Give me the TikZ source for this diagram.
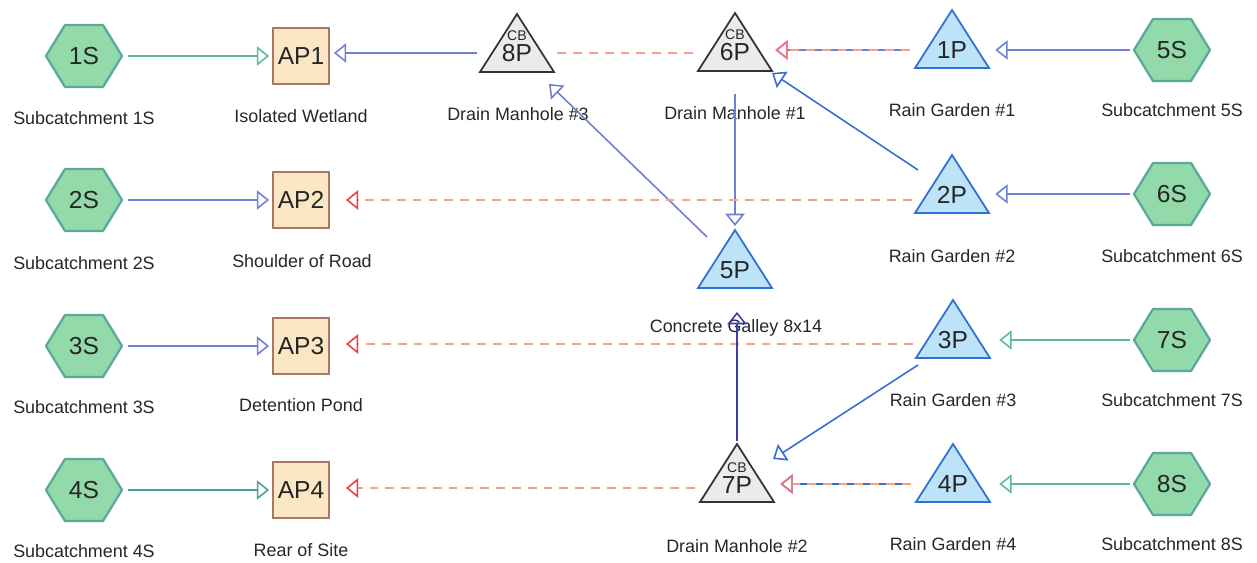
\documentclass[tikz,border=0pt]{standalone}
\usepackage{fontspec}
\setmainfont{Liberation Sans}
\usetikzlibrary{arrows.meta}
\definecolor{hexfill}{HTML}{92DAA9}
\definecolor{hexdraw}{HTML}{5BA89C}
\definecolor{apfill}{HTML}{FCE7C4}
\definecolor{apdraw}{HTML}{A8766A}
\definecolor{pondfill}{HTML}{BCE3F7}
\definecolor{ponddraw}{HTML}{2F6FD6}
\definecolor{cbfill}{HTML}{EBEBEB}
\definecolor{cbdraw}{HTML}{333333}
\definecolor{cgreen}{HTML}{5DB89E}
\definecolor{cteal}{HTML}{4BA0A0}
\definecolor{cblue}{HTML}{6E7FD4}
\definecolor{cpond}{HTML}{3A6CD6}
\definecolor{cnavy}{HTML}{3B3FA8}
\definecolor{cdash}{HTML}{F4A08C}
\definecolor{cred}{HTML}{EE3B3B}
\begin{document}
\begin{tikzpicture}[x=0.02cm, y=-0.02cm,
  hexpic/.pic={\filldraw[fill=hexfill, draw=hexdraw, line width=1.3pt, line join=round]
     (-38,0) -- (-19,-31) -- (19,-31) -- (38,0) -- (19,31) -- (-19,31) -- cycle;},
  pondpic/.pic={\filldraw[fill=pondfill, draw=ponddraw, line width=1pt, line join=miter]
     (0,0) -- (37,58) -- (-37,58) -- cycle;},
  cbpic/.pic={\filldraw[fill=cbfill, draw=cbdraw, line width=1pt, line join=miter]
     (0,0) -- (37,58) -- (-37,58) -- cycle;},
  idtxt/.style={font=\fontsize{14}{14}\selectfont, text=black!85, inner sep=0pt},
  cbtxt/.style={font=\fontsize{8}{8}\selectfont, text=black!85, inner sep=0pt},
  hexnode/.style={idtxt, minimum width=1.52cm, minimum height=1.24cm},
  trinode/.style={idtxt, minimum width=1.48cm, minimum height=0.6cm},
  apnode/.style={idtxt, draw=apdraw, fill=apfill, line width=1pt, minimum size=1.12cm},
  lbl/.style={font=\fontsize{10.2}{10.2}\selectfont, text=black!85, inner sep=0pt},
  conn/.style={line width=0.9pt, -{Triangle[open, length=7pt, width=11pt]}},
  gline/.style={conn, draw=cgreen},
  tline/.style={conn, draw=cteal},
  bline/.style={conn, draw=cblue},
  pline/.style={conn, draw=cpond},
  nline/.style={conn, draw=cnavy},
  dline/.style={line width=0.9pt, draw=cdash, dash pattern=on 5pt off 4pt},
  rline/.style={dline, -{Triangle[open, length=7pt, width=11pt, color=cred]}},
  sh/.style={shorten <=#1},
  se/.style={shorten >=#1}
]
\useasboundingbox (0,0) rectangle (1257,563);

% shapes
\pic at (84,56) {hexpic};
\pic at (84,200) {hexpic};
\pic at (84,346) {hexpic};
\pic at (84,490) {hexpic};
\pic at (1172,50) {hexpic};
\pic at (1172,194) {hexpic};
\pic at (1172,340) {hexpic};
\pic at (1172,484) {hexpic};
\pic at (517,14) {cbpic};
\pic at (735,13) {cbpic};
\pic at (737,444) {cbpic};
\pic at (952,10) {pondpic};
\pic at (952,155) {pondpic};
\pic at (735,230) {pondpic};
\pic at (953,300) {pondpic};
\pic at (953,444) {pondpic};

% nodes
\node[hexnode] (1S) at (84,56) {1S};
\node[hexnode] (2S) at (84,200) {2S};
\node[hexnode] (3S) at (84,346) {3S};
\node[hexnode] (4S) at (84,490) {4S};
\node[hexnode] (5S) at (1172,50) {5S};
\node[hexnode] (6S) at (1172,194) {6S};
\node[hexnode] (7S) at (1172,340) {7S};
\node[hexnode] (8S) at (1172,484) {8S};
\node[apnode] (AP1) at (301,56) {AP1};
\node[apnode] (AP2) at (301,200) {AP2};
\node[apnode] (AP3) at (301,346) {AP3};
\node[apnode] (AP4) at (301,490) {AP4};
\node[trinode] (8P) at (517,53) {8P};
\node[cbtxt] (8Pcb) at (517,36) {CB};
\node[trinode] (6P) at (735,52) {6P};
\node[cbtxt] (6Pcb) at (735,35) {CB};
\node[trinode] (7P) at (737,485) {7P};
\node[cbtxt] (7Pcb) at (737,468) {CB};
\node[trinode] (1P) at (952,50) {1P};
\node[trinode] (2P) at (952,195) {2P};
\node[trinode] (5P) at (735,270) {5P};
\node[trinode] (3P) at (953,340) {3P};
\node[trinode] (4P) at (953,484) {4P};

% labels
\node[lbl] (l1S) at (84,118) {Subcatchment 1S};
\node[lbl] (lAP1) at (301,116) {Isolated Wetland};
\node[lbl] (l8P) at (518,114) {Drain Manhole \#3};
\node[lbl] (l6P) at (735,113) {Drain Manhole \#1};
\node[lbl] (l1P) at (952,110) {Rain Garden \#1};
\node[lbl] (l5S) at (1172,110) {Subcatchment 5S};
\node[lbl] (l2S) at (84,263) {Subcatchment 2S};
\node[lbl] (lAP2) at (302,261) {Shoulder of Road};
\node[lbl] (l2P) at (952,256) {Rain Garden \#2};
\node[lbl] (l6S) at (1172,256) {Subcatchment 6S};
\node[lbl] (l5P) at (736,328) {Concrete Galley 8x14};
\node[lbl] (l3S) at (84,407) {Subcatchment 3S};
\node[lbl] (lAP3) at (301,405) {Detention Pond};
\node[lbl] (l3P) at (953,400) {Rain Garden \#3};
\node[lbl] (l7S) at (1172,400) {Subcatchment 7S};
\node[lbl] (l4S) at (84,551) {Subcatchment 4S};
\node[lbl] (lAP4) at (301,550) {Rear of Site};
\node[lbl] (l7P) at (737,546) {Drain Manhole \#2};
\node[lbl] (l4P) at (953,544) {Rain Garden \#4};
\node[lbl] (l8S) at (1172,544) {Subcatchment 8S};

% connectors row 1
\draw[gline, sh=0.12cm, se=0.06cm] (1S.east) -- (AP1.west);
\draw[bline, sh=0.06cm, se=0.08cm] (8P.west) -- (8P.west -| AP1.east);
\draw[dline, sh=0.06cm] (8P.east) -- (8P.east -| 6P.west);
\draw[bline, sh=0.08cm, se=0.12cm] (5S.west) -- (5S.west -| 1P.east);
\draw[bline, sh=0.1cm, se=0.06cm] (1P.west) -- (1P.west -| 6P.east);
\draw[dline, shorten <=0.1cm, shorten >=0.06cm, -{Triangle[open, length=7pt, width=11pt, color=cred!70]}] (1P.west) -- (1P.west -| 6P.east);
\draw[bline] ([shift={(0,42)}]6P.center) -- ([shift={(0,-44)}]5P.center);
\draw[bline] ([shift={(-28,-33)}]5P.center) -- ([shift={(32,31)}]8P.center);
\draw[pline] ([shift={(-34,-25)}]2P.center) -- ([shift={(37,21)}]6P.center);
% row 2
\draw[bline, sh=0.12cm, se=0.06cm] (2S.east) -- (AP2.west);
\draw[bline, sh=0.08cm, se=0.12cm] (6S.west) -- (6S.west -| 2P.east);
\draw[rline, sh=0.06cm, se=0.32cm] (AP2.east -| 2P.west) -- (AP2.east);
% row 3
\draw[bline, sh=0.12cm, se=0.06cm] (3S.east) -- (AP3.west);
\draw[gline, sh=0.08cm, se=0.18cm] (7S.west) -- (7S.west -| 3P.east);
\draw[rline, sh=0.06cm, se=0.32cm] ([yshift=0.04cm]AP3.east -| 3P.west) -- ([yshift=0.04cm]AP3.east);
\draw[pline] ([shift={(-35,25)}]3P.center) -- ([shift={(36,-26)}]7P.center);
\draw[nline] ([shift={(0,-44)}]7P.center) -- ([yshift=-0.84cm]7P.center |- 5P.center);
% row 4
\draw[tline, sh=0.12cm, se=0.06cm] (4S.east) -- (AP4.west);
\draw[gline, sh=0.08cm, se=0.18cm] (8S.west) -- (8S.west -| 4P.east);
\draw[pline, sh=0.1cm, se=0.12cm] (4P.west) -- (4P.west -| 7P.east);
\draw[dline, shorten <=0.1cm, shorten >=0.12cm, -{Triangle[open, length=7pt, width=11pt, color=cred!70]}] (4P.west) -- (4P.west -| 7P.east);
\draw[rline, sh=0.1cm, se=0.32cm] ([yshift=0.04cm]AP4.east -| 7P.west) -- ([yshift=0.04cm]AP4.east);
\end{tikzpicture}
\end{document}
